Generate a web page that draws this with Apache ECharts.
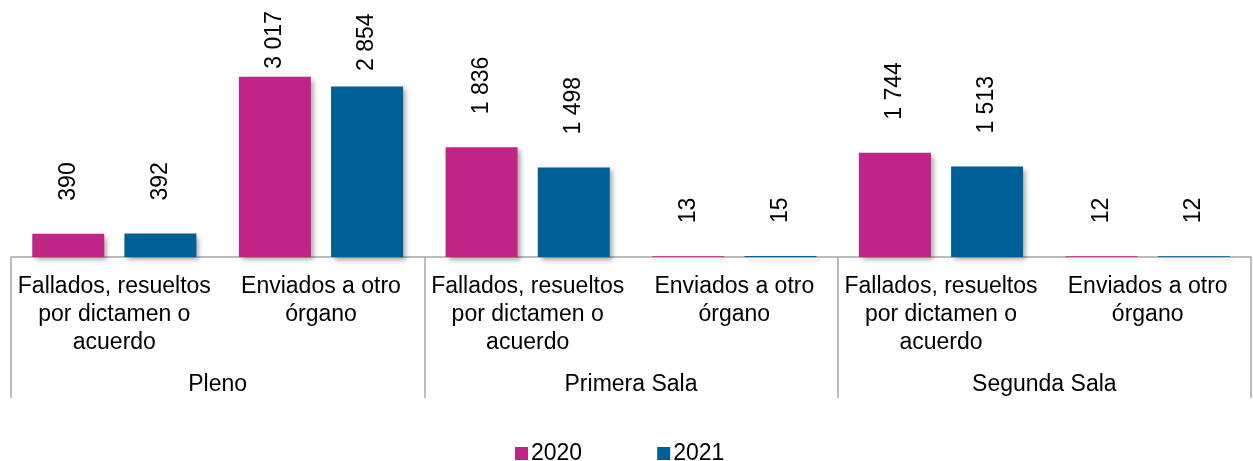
<!DOCTYPE html>
<html>
<head>
<meta charset="utf-8">
<script src="https://cdn.jsdelivr.net/npm/echarts@6/dist/echarts.min.js"></script>
<style>html,body{margin:0;padding:0;background:#fff}#c{width:1253px;height:461px}</style>
</head>
<body>
<div id="c"></div>
<script>
var groups = ['Pleno', 'Primera Sala', 'Segunda Sala'];
var subCategories = ['Fallados, resueltos\npor dictamen o\nacuerdo', 'Enviados a otro\nórgano'];
var seriesNames = ['2020', '2021'];
var values2020 = [390, 3017, 1836, 13, 1744, 12];
var values2021 = [392, 2854, 1498, 15, 1513, 12];

var categories = [];
groups.forEach(function (g) { subCategories.forEach(function (s) { categories.push(s); }); });

var FONT = "'Liberation Sans', Arial, sans-serif";
var fmt = function (v) { return String(v).replace(/\B(?=(\d{3})+(?!\d))/g, ' '); };

var chart = echarts.init(document.getElementById('c'));
function makeSeries(name, vals, color, dists) {
  return {
    name: name, type: 'bar', barWidth: 72, barGap: '28%',
    itemStyle: { color: color, shadowColor: 'rgba(0,0,0,0.35)', shadowBlur: 5, shadowOffsetX: 3, shadowOffsetY: 3 },
    label: {
      show: true, position: 'top', rotate: 90, align: 'left', verticalAlign: 'middle',
      distance: 32, color: '#000', fontFamily: FONT, fontSize: 23,
      formatter: function (p) { return fmt(p.value); }
    },
    data: vals.map(function (v, i) {
      var d = { value: v };
      if (dists) d.label = { distance: dists[i] };
      return d;
    })
  };
}
function build(d1, d2) {
  return {
    animation: false,
    grid: { left: 11, right: 2, top: 0, bottom: 204 },
    legend: {
      left: 510, top: 437, itemWidth: 13, itemHeight: 13, itemGap: 75,
      textStyle: { fontFamily: FONT, fontSize: 23, color: '#000', padding: [0, 0, 0, -2] },
      data: [{ name: seriesNames[0], icon: 'rect' }, { name: seriesNames[1], icon: 'rect' }]
    },
    xAxis: [{
      type: 'category', data: categories, position: 'bottom',
      axisLine: { show: true, lineStyle: { color: '#A6A6A6', width: 1.5 } },
      axisTick: { show: false },
      axisLabel: { interval: 0, margin: 16, fontFamily: FONT, fontSize: 23, lineHeight: 28, color: '#000', align: 'center' }
    }, {
      type: 'category', data: groups, position: 'bottom',
      axisLine: { show: false },
      axisTick: { show: true, length: 141, interval: 0, lineStyle: { color: '#A6A6A6', width: 1.5 } },
      axisLabel: { interval: 0, margin: 114, fontFamily: FONT, fontSize: 23, lineHeight: 28, color: '#000' }
    }],
    yAxis: { type: 'value', min: 0, max: 4300, show: false, splitLine: { show: false } },
    series: [makeSeries(seriesNames[0], values2020, '#C02484', d1), makeSeries(seriesNames[1], values2021, '#005F96', d2)]
  };
}
chart.setOption(build());
function dists(vals) {
  return vals.map(function (v) {
    var y = chart.convertToPixel({ yAxisIndex: 0 }, v);
    return Math.max(8, Math.min(33, y - 71));
  });
}
chart.setOption(build(dists(values2020), dists(values2021)), true);
</script>
</body>
</html>
